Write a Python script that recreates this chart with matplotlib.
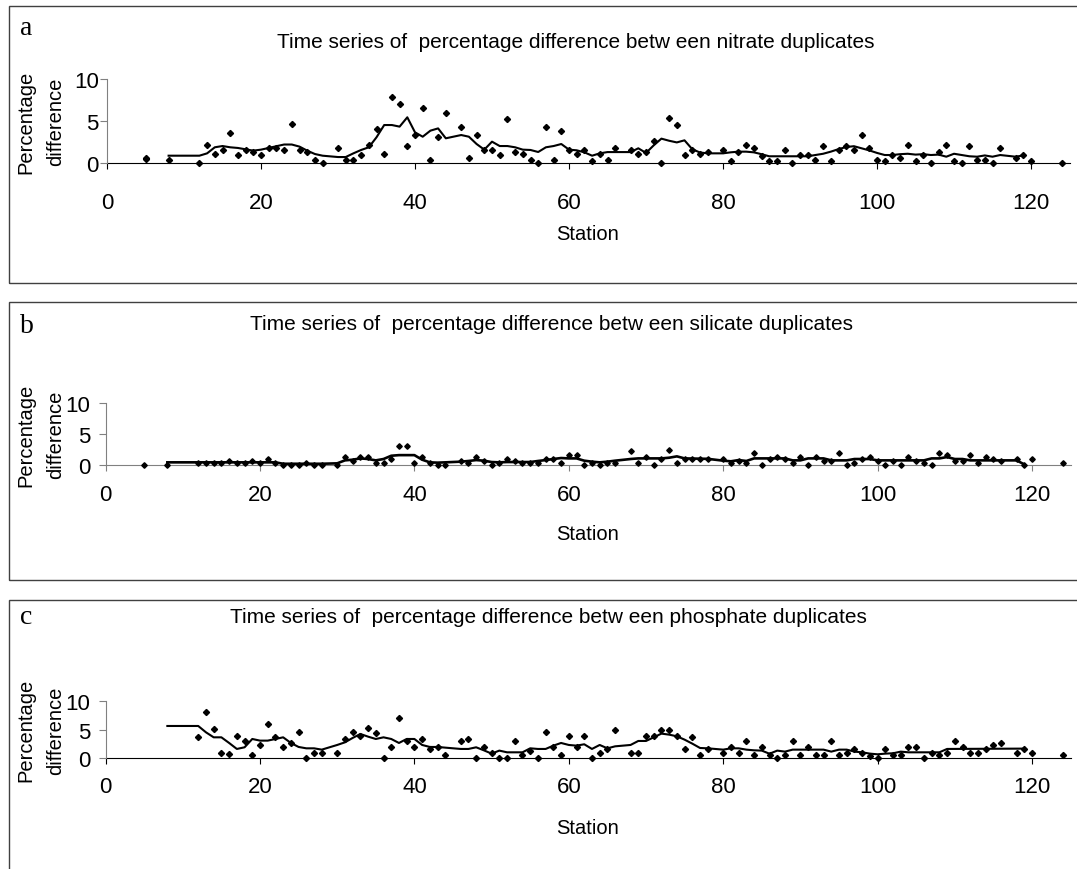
import matplotlib
matplotlib.use("Agg")
import matplotlib.pyplot as plt
from matplotlib.patches import Rectangle

plt.rcParams['font.family'] = ['Liberation Sans', 'DejaVu Sans']

# ---- data ----
stations_a = [5, 5, 8, 12, 13, 14, 15, 16, 17, 18, 19, 20, 21, 22, 23, 24, 25, 26, 27, 28,
              30, 31, 32, 33, 34, 35, 36, 37, 38, 39, 40, 41, 42, 43, 44, 46, 47, 48, 49, 50,
              51, 52, 53, 54, 55, 56, 57, 58, 59, 60, 61, 62, 63, 64, 65, 66, 68, 69, 70, 71,
              72, 73, 74, 75, 76, 77, 78, 80, 81, 82, 83, 84, 85, 86, 87, 88, 89, 90, 91, 92,
              93, 94, 95, 96, 97, 98, 99, 100, 101, 102, 103, 104, 105, 106, 107, 108, 109, 110,
              111, 112, 113, 114, 115, 116, 118, 119, 120, 124]
nitrate = [0.6, 0.5, 0.4, 0.0, 2.2, 1.1, 1.5, 3.6, 0.9, 1.5, 1.3, 0.9, 1.75, 1.75, 1.5, 4.7, 1.5, 1.3, 0.4, 0.0,
           1.8, 0.4, 0.4, 0.9, 2.2, 4.0, 1.1, 7.9, 7.0, 2.0, 3.3, 6.5, 0.4, 3.1, 5.9, 4.25, 0.6, 3.3, 1.5, 1.5,
           0.9, 5.2, 1.3, 1.1, 0.4, 0.0, 4.25, 0.4, 3.8, 1.5, 1.1, 1.5, 0.2, 1.1, 0.4, 1.8, 1.6, 1.1, 1.3, 2.65,
           0.0, 5.4, 4.5, 0.9, 1.5, 1.1, 1.3, 1.6, 0.2, 1.3, 2.2, 1.8, 0.85, 0.2, 0.2, 1.5, 0.0, 0.9, 0.9, 0.4,
           2.0, 0.2, 1.6, 2.0, 1.5, 3.3, 1.8, 0.4, 0.2, 0.9, 0.6, 2.2, 0.2, 0.9, 0.0, 1.3, 2.2, 0.2,
           0.0, 2.0, 0.4, 0.4, 0.0, 1.8, 0.6, 0.9, 0.2, 0.0]
trend_a_x = [8, 12, 13, 14, 15, 16, 17, 18, 19, 20, 21, 22, 23, 24, 25, 26, 27, 28, 30, 31,
             32, 33, 34, 35, 36, 37, 38, 39, 40, 41, 42, 43, 44, 46, 47, 48, 49, 50, 51, 52,
             53, 54, 55, 56, 57, 58, 59, 60, 61, 62, 63, 64, 65, 66, 68, 69, 70, 71, 72, 73,
             74, 75, 76, 77, 78, 80, 81, 82, 83, 84, 85, 86, 88, 90, 91, 92, 93, 94, 95, 96,
             97, 98, 99, 100, 101, 102, 103, 104, 105, 106, 107, 108, 109, 110, 111, 112, 113, 114,
             115, 116, 118, 119]
trend_a = [0.87, 0.87, 1.15, 1.87, 2.02, 1.87, 1.79, 1.63, 1.47, 1.59, 1.79, 2.0, 2.2, 2.2, 1.95, 1.47, 1.07, 0.87, 0.71, 0.71,
           1.15, 1.55, 1.87, 3.06, 4.52, 4.52, 4.33, 5.44, 3.65, 3.13, 3.85, 4.12, 2.94, 3.33, 3.13, 2.26, 1.59, 2.54, 2.02, 2.02,
           1.87, 1.59, 1.55, 1.31, 1.87, 2.02, 2.26, 1.59, 1.51, 1.27, 0.87, 1.15, 1.3, 1.3, 1.3, 1.75, 1.2, 2.1, 2.9, 2.65,
           2.45, 2.7, 1.65, 1.25, 1.15, 1.15, 1.27, 1.35, 1.35, 1.27, 1.05, 0.8, 0.8, 0.8, 0.8, 0.95, 1.1, 1.35, 1.65, 1.9,
           2.0, 1.75, 1.5, 1.2, 0.95, 0.95, 1.05, 1.1, 1.0, 1.05, 0.95, 1.0, 0.75, 1.1, 0.95, 0.8, 0.75, 0.9,
           0.75, 0.95, 0.75, 0.9]

stations_b = [5, 8, 12, 13, 14, 15, 16, 17, 18, 19, 20, 21, 22, 23, 24, 25, 26, 27, 28,
              30, 31, 32, 33, 34, 35, 36, 37, 38, 39, 40, 41, 42, 43, 44, 46, 47, 48, 49, 50,
              51, 52, 53, 54, 55, 56, 57, 58, 59, 60, 61, 62, 63, 64, 65, 66, 68, 69, 70, 71,
              72, 73, 74, 75, 76, 77, 78, 80, 81, 82, 83, 84, 85, 86, 87, 88, 89, 90, 91, 92,
              93, 94, 95, 96, 97, 98, 99, 100, 101, 102, 103, 104, 105, 106, 107, 108, 109, 110,
              111, 112, 113, 114, 115, 116, 118, 119, 120, 124]
silicate = [0.0, 0.0, 0.3, 0.3, 0.3, 0.3, 0.65, 0.3, 0.3, 0.65, 0.3, 1.0, 0.3, 0.0, 0.0, 0.0, 0.3, 0.0, 0.0,
            0.0, 1.25, 0.65, 1.25, 1.25, 0.3, 0.3, 1.0, 3.1, 3.1, 0.3, 1.25, 0.3, 0.0, 0.0, 0.65, 0.3, 1.25, 0.65, 0.0,
            0.3, 1.0, 0.65, 0.3, 0.3, 0.3, 1.0, 1.0, 0.3, 1.6, 1.6, 0.0, 0.3, 0.0, 0.3, 0.3, 2.2, 0.3, 1.25, 0.0,
            1.0, 2.5, 0.3, 1.0, 1.0, 1.0, 1.0, 1.0, 0.3, 0.65, 0.3, 1.9, 0.0, 1.0, 1.25, 1.0, 0.3, 1.25, 0.0, 1.25,
            0.65, 0.65, 1.9, 0.0, 0.3, 1.0, 1.25, 0.65, 0.0, 0.65, 0.0, 1.25, 0.65, 0.3, 0.0, 1.9, 1.6, 0.65,
            0.65, 1.6, 0.3, 1.25, 1.0, 0.65, 1.0, 0.0, 1.0, 0.3]
trend_b_x = [8, 22, 23, 28, 30, 31, 32, 33, 34, 35, 36, 37, 38, 40, 41, 42, 43, 44, 46, 47,
             48, 49, 50, 51, 52, 55, 56, 57, 58, 59, 60, 61, 62, 63, 64, 65, 66, 68, 69, 72,
             73, 74, 75, 78, 80, 81, 82, 83, 84, 88, 89, 90, 91, 93, 94, 96, 97, 99, 100, 106,
             107, 108, 109, 110, 111, 112, 118, 119]
trend_b = [0.43, 0.43, 0.2, 0.2, 0.27, 0.75, 0.86, 1.07, 0.97, 0.75, 0.97, 1.5, 1.6, 1.6, 0.86, 0.43, 0.38, 0.43, 0.54, 0.65,
           0.8, 0.7, 0.48, 0.43, 0.48, 0.48, 0.65, 0.8, 0.97, 1.13, 1.07, 1.07, 0.7, 0.54, 0.43, 0.54, 0.7, 0.97, 1.07, 1.07,
           1.18, 1.4, 1.07, 1.0, 0.7, 0.6, 0.8, 0.65, 1.07, 1.07, 0.75, 0.75, 1.07, 1.07, 0.75, 0.75, 0.97, 0.97, 0.75, 0.75,
           1.07, 1.07, 1.29, 0.97, 0.97, 0.75, 0.75, 0.1]

stations_c = [12, 13, 14, 15, 16, 17, 18, 19, 20, 21, 22, 23, 24, 25, 26, 27, 28,
              30, 31, 32, 33, 34, 35, 36, 37, 38, 39, 40, 41, 42, 43, 44, 46, 47, 48, 49, 50,
              51, 52, 53, 54, 55, 56, 57, 58, 59, 60, 61, 62, 63, 64, 65, 66, 68, 69, 70, 71,
              72, 73, 74, 75, 76, 77, 78, 80, 81, 82, 83, 84, 85, 86, 87, 88, 89, 90, 91, 92,
              93, 94, 95, 96, 97, 98, 99, 100, 101, 102, 103, 104, 105, 106, 107, 108, 109, 110,
              111, 112, 113, 114, 115, 116, 118, 119, 120, 124]
phosphate = [3.7, 8.1, 5.1, 1.0, 0.7, 4.0, 3.0, 0.65, 2.3, 6.1, 3.7, 2.0, 2.7, 4.7, 0.0, 1.0, 1.0,
             1.0, 3.3, 4.7, 4.0, 5.4, 4.4, 0.0, 2.0, 7.1, 3.0, 2.0, 3.3, 1.6, 2.0, 0.65, 3.0, 3.3, 0.0, 2.0, 1.0,
             0.0, 0.0, 3.0, 0.65, 1.35, 0.0, 4.7, 2.0, 0.65, 4.0, 2.0, 4.0, 0.0, 1.0, 1.7, 5.0, 1.0, 1.0, 4.0, 4.0,
             5.0, 5.0, 4.0, 1.7, 3.7, 0.65, 1.7, 1.0, 2.0, 1.0, 3.0, 0.65, 2.0, 0.65, 0.0, 0.65, 3.0, 0.65, 2.0, 0.65,
             0.65, 3.0, 0.65, 1.0, 1.7, 1.0, 0.35, 0.0, 1.7, 0.65, 0.65, 2.0, 2.0, 0.0, 1.0, 0.65, 1.0, 3.0,
             2.0, 1.0, 1.0, 1.7, 2.3, 2.7, 1.0, 1.7, 1.0, 0.65]
trend_c_x = [8, 12, 13, 14, 15, 16, 17, 18, 19, 20, 21, 22, 23, 24, 25, 26, 27, 28, 30, 31,
             32, 33, 34, 35, 36, 37, 38, 39, 40, 41, 42, 43, 44, 46, 47, 48, 49, 50, 51, 52,
             54, 55, 56, 57, 58, 59, 60, 61, 62, 63, 64, 65, 66, 68, 69, 70, 71, 72, 73, 74,
             75, 76, 77, 78, 80, 81, 82, 83, 84, 85, 86, 87, 88, 89, 93, 94, 95, 96, 97, 98,
             99, 100, 101, 102, 103, 104, 108, 109, 119]
trend_c = [5.67, 5.67, 4.56, 3.68, 3.68, 2.69, 1.64, 1.93, 3.39, 3.1, 3.1, 3.39, 3.68, 2.69, 1.99, 1.75, 1.75, 1.52, 2.34, 2.8,
           3.57, 4.27, 3.8, 3.39, 3.68, 3.39, 2.69, 3.39, 3.39, 2.34, 1.99, 1.99, 1.87, 1.64, 1.64, 1.93, 1.4, 0.82, 1.35, 1.05,
           1.05, 1.75, 1.64, 1.64, 2.22, 2.69, 2.34, 2.22, 2.46, 1.64, 2.34, 1.75, 2.1, 2.34, 3.04, 3.04, 3.68, 4.33, 4.15, 3.86,
           3.27, 2.57, 1.81, 1.75, 1.52, 1.75, 1.75, 1.52, 1.4, 1.35, 0.8, 1.35, 1.17, 1.52, 1.52, 1.17, 1.52, 1.52, 1.17, 1.05,
           0.82, 0.7, 0.82, 0.88, 1.17, 1.05, 1.05, 1.64, 1.7]

x_ticks = [0, 20, 40, 60, 80, 100, 120]
y_ticks = [0, 5, 10]

W, H = 1077, 870
fig = plt.figure(figsize=(W / 100, H / 100), dpi=100)


def fx(px):
    return px / W


def fy(py):
    return 1 - py / H


panels = [
    dict(letter="a", name="nitrate", x=stations_a, y=nitrate, tx=trend_a_x, ty=trend_a,
         box=(9, 7, 284), ax=(107, 80, 1069.5, 164), title_x=277, title_y=42, letter_y=35,
         xpad=17, ypad=1, station_y=234, ms=3.1, lw=1.5, xcol="black"),
    dict(letter="b", name="silicate", x=stations_b, y=silicate, tx=trend_b_x, ty=trend_b,
         box=(9, 303, 581), ax=(105.6, 404.3, 1070.6, 466), title_x=250, title_y=325, letter_y=333,
         xpad=9.5, ypad=6, station_y=535, ms=2.8, lw=1.9, xcol="#808080"),
    dict(letter="c", name="phosphate", x=stations_c, y=phosphate, tx=trend_c_x, ty=trend_c,
         box=(9, 601, 900), ax=(105.6, 702.3, 1070.6, 759.3), title_x=230, title_y=618, letter_y=624,
         xpad=9, ypad=6, station_y=829, ms=3.1, lw=1.5, xcol="black"),
]

for p in panels:
    # chart-area frame (its right side runs off the picture)
    bl, bt, bb = p["box"]
    fig.patches.append(Rectangle((fx(bl), fy(bb)), fx(W + 40 - bl), fy(bt) - fy(bb),
                                 transform=fig.transFigure, fill=False,
                                 edgecolor="#404040", linewidth=1.0, clip_on=False))

    l, t, r, b = p["ax"]
    ax = fig.add_axes([fx(l), fy(b), fx(r - l), fy(t) - fy(b)])
    ax.patch.set_visible(False)
    ax.plot(p["tx"], p["ty"], color="black", linewidth=p["lw"], clip_on=False, zorder=2)
    ax.plot(p["x"], p["y"], linestyle="none", marker="D", markersize=p["ms"],
            color="black", clip_on=False, zorder=3)
    ax.set_xlim(0, 125)
    ax.set_ylim(0, 10)
    ax.set_xticks(x_ticks)
    ax.set_yticks(y_ticks)
    for s in ["top", "right"]:
        ax.spines[s].set_visible(False)
    ax.spines["left"].set_color("#808080")
    ax.spines["bottom"].set_color(p["xcol"])
    ax.spines["bottom"].set_zorder(1)
    ax.tick_params(axis="x", direction="out", length=4, color=p["xcol"],
                   labelsize=16, pad=p["xpad"])
    ax.tick_params(axis="y", direction="out", length=5, color="#808080",
                   labelsize=16, pad=p["ypad"])

    fig.text(fx(p["title_x"]), fy(p["title_y"]),
             "Time series of  percentage difference betw een %s duplicates" % p["name"],
             ha="left", va="center", fontsize=15)
    fig.text(fx(20), fy(p["letter_y"]), p["letter"], ha="left", va="baseline",
             fontsize=20, family=["Liberation Serif", "DejaVu Serif"])
    fig.text(fx(41), fy((t + b) / 2), "Percentage\ndifference", rotation=90,
             ha="center", va="center", multialignment="center", fontsize=14.5,
             linespacing=1.7)
    fig.text(fx(588), fy(p["station_y"]), "Station", ha="center", va="center", fontsize=14.5)

fig.savefig("out.png", dpi=100, facecolor="white")
